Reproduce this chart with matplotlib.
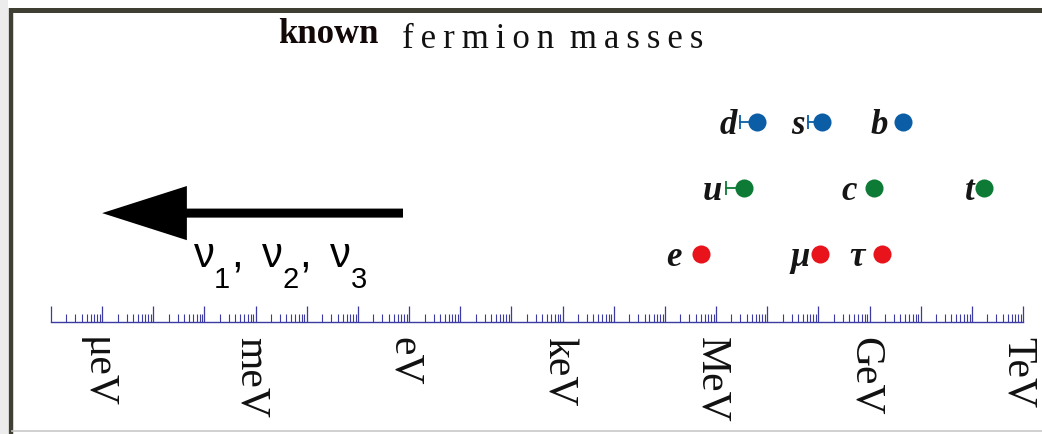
import numpy as np
import matplotlib.pyplot as plt
import matplotlib._mathtext as mathtext_internals
from matplotlib.lines import Line2D
from matplotlib.patches import FancyArrowPatch, ArrowStyle, Rectangle
from matplotlib.ticker import FixedLocator, LogLocator, NullFormatter
from matplotlib.transforms import ScaledTranslation

plt.rcParams['mathtext.fontset'] = 'custom'
plt.rcParams['mathtext.rm'] = 'Liberation Sans'
plt.rcParams['mathtext.it'] = 'Liberation Sans'
plt.rcParams['mathtext.bf'] = 'Liberation Sans'
# deeper subscripts for the neutrino label
mathtext_internals.FontConstantsBase.sub1 = 0.95

# fermion masses (eV), row 1 = leptons, 2 = up quarks, 3 = down quarks
names = ['e', 'μ', 'τ', 'u', 'c', 't', 'd', 's', 'b']
mass_eV = [0.511e6, 1.06e8, 1.78e9, 3.5e6, 1.2e9, 1.7e11, 6.4e6, 1.17e8, 4.5e9]
err_low = [0, 0, 0, 1.95e6, 0, 0, 3.5e6, 5.5e7, 0]
row = [1, 1, 1, 2, 2, 2, 3, 3, 3]

# neutrinos: only an upper bound, arrow points down to smaller masses
nu_upper = 0.76
nu_lower = 1e-6
nu_label = r'$\nu_1,\ \nu_2,\ \nu_3$'

# unit names on the energy axis
unit_exp = [-6, -3, 0, 3, 6, 9, 12]
unit_names = ['μeV', 'meV', 'eV', 'keV', 'MeV', 'GeV', 'TeV']

row_color = {1: '#e8131b', 2: '#0d7a35', 3: '#0b5ea6'}
label_gap = [20, 10, 18, 4, 17, 9, 3, 3, 15]   # px left of the leftmost point
axis_blue = '#3b3ba2'

W, H = 1042, 435
fig = plt.figure(figsize=(W / 100, H / 100), dpi=100)

# axes: bottom spine at y=323 px, 1 row unit = 66 px
ax = fig.add_axes([51 / W, 112 / H, 972 / W, 263 / H])
ax.set_xscale('log')
ax.set_xlim(1e-7, 1e12)
ax.set_ylim(-0.03, -0.03 + 263 / 66)
for side in ['top', 'left', 'right']:
    ax.spines[side].set_visible(False)
ax.spines['bottom'].set_color(axis_blue)
ax.spines['bottom'].set_linewidth(1.0)
ax.set_yticks([])

decades = [10.0 ** k for k in range(-7, 13)]
ticklabels = []
for k in range(-7, 13):
    if k in unit_exp:
        ticklabels.append(unit_names[unit_exp.index(k)])
    else:
        ticklabels.append('')
ax.xaxis.set_major_locator(FixedLocator(decades))
ax.set_xticklabels(ticklabels)
ax.xaxis.set_minor_locator(LogLocator(base=10, subs=np.arange(2, 10), numticks=200))
ax.xaxis.set_minor_formatter(NullFormatter())
ax.tick_params(axis='x', which='major', direction='in', length=11.5, width=0.9,
               color=axis_blue, pad=10, labelsize=30, labelrotation=270)
ax.tick_params(axis='x', which='minor', direction='in', length=5.5, width=0.8,
               color=axis_blue)
shift_left = ScaledTranslation(-5 / 100, 0, fig.dpi_scale_trans)
for lbl in ax.get_xticklabels():
    lbl.set_fontfamily('Liberation Serif')
    lbl.set_color('#111111')
    lbl.set_transform(lbl.get_transform() + shift_left)

# fermion dots, with a capped bar down to the lower end of the range
for i in range(len(names)):
    c = row_color[row[i]]
    if err_low[i] > 0:
        lo = mass_eV[i] - err_low[i]
        ax.plot([lo, mass_eV[i]], [row[i], row[i]], color=c, lw=1.3, zorder=2)
        ax.plot([lo], [row[i]], marker='|', ms=10, mew=1.3, color=c, zorder=2)
    ax.plot([mass_eV[i]], [row[i]], 'o', ms=13, color=c, mec='none', zorder=3)
    ax.annotate(names[i], xy=(mass_eV[i] - err_low[i], row[i]),
                xytext=(-label_gap[i], -11), textcoords='offset pixels',
                ha='right', va='baseline', fontsize=25, fontweight='bold',
                fontstyle='italic', family='Liberation Serif', color='#151515')

# neutrino arrow
arrow = FancyArrowPatch((nu_upper, 1.62), (nu_lower, 1.62),
                        arrowstyle=ArrowStyle.Simple(head_length=61, head_width=39,
                                                     tail_width=6.5),
                        mutation_scale=1, color='black', lw=0,
                        shrinkA=0, shrinkB=0, zorder=4)
ax.add_patch(arrow)
ax.text(6e-5, 0.82, nu_label, fontsize=30, ha='left', va='baseline', color='black')

# title
fig.text(278 / W, 1 - 43 / H, 'known', fontsize=25, fontweight='bold',
         family='Liberation Serif', color='#120808', va='baseline', ha='left')
fig.text(402 / W, 1 - 48 / H, '\u2009'.join('fermion') + ' \u2009' + '\u2009'.join('masses'),
         fontsize=25, family='Liberation Serif', color='#111111',
         va='baseline', ha='left')

# window frame
fig.add_artist(Rectangle((0, 0), 8 / W, 1, transform=fig.transFigure,
                         facecolor='#ececec', edgecolor='none'))
fig.add_artist(Line2D([10.5 / W, 10.5 / W], [0, 1 - 9 / H], transform=fig.transFigure,
                      color='#3f3f34', lw=3.2, solid_capstyle='butt'))
fig.add_artist(Line2D([9 / W, 1], [1 - 10.5 / H, 1 - 10.5 / H], transform=fig.transFigure,
                      color='#3f3f34', lw=3.6, solid_capstyle='butt'))
fig.add_artist(Line2D([12 / W, 1], [3.5 / H, 3.5 / H], transform=fig.transFigure,
                      color='#c8c8c8', lw=1.2))

fig.savefig('out.png', dpi=100)
